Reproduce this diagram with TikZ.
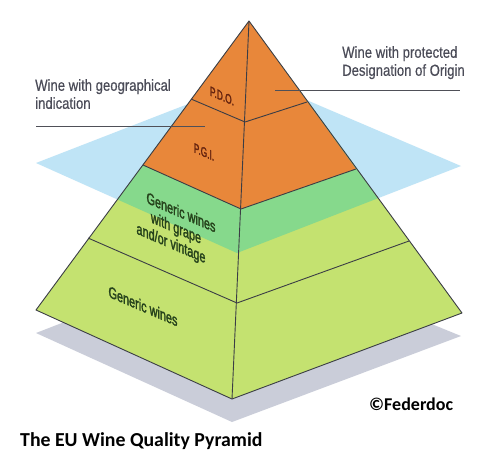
\documentclass[tikz,border=0pt]{standalone}
\usepackage{fontspec}
\setmainfont{Liberation Sans}
\newfontfamily\condA[FakeStretch=0.82, FakeBold=0.5]{Liberation Sans}
\newfontfamily\condB[FakeStretch=0.68, FakeBold=1.8]{Liberation Sans}
\newfontfamily\condC[FakeStretch=0.62, FakeBold=1.8]{Liberation Sans}
\newfontfamily\calf{Carlito}
\definecolor{orangec}{HTML}{E8873A}
\definecolor{limec}{HTML}{C4E270}
\definecolor{bandc}{HTML}{86D98C}
\definecolor{planec}{HTML}{BFE4F6}
\definecolor{shadowc}{HTML}{CACDD9}
\definecolor{edgec}{HTML}{3B3D45}
\definecolor{labelc}{HTML}{4B4C58}
\definecolor{redtxt}{HTML}{66240F}
\definecolor{greentxt}{HTML}{25421B}
\tikzset{
  edge/.style={draw=edgec, line width=0.9pt, line join=round},
  leader/.style={draw=edgec!90, line width=0.9pt},
  sidelabel/.style={text=labelc, font=\condA\fontsize{16}{18}\selectfont, align=left, inner sep=0pt},
  facelabel/.style={font=\condB\fontsize{16}{17.5}\selectfont, align=center, inner sep=0pt, yslant=-0.43},
  toplabel/.style={font=\condC\fontsize{13.5}{15}\selectfont, text=redtxt, inner sep=0pt, yslant=-0.43},
  credit/.style={font=\calf\bfseries\fontsize{18}{22}\selectfont, inner sep=0pt}
}
\begin{document}
\begin{tikzpicture}[x=1pt,y=-1pt]
\useasboundingbox (0,0) rectangle (500,474);
\fill[white] (0,0) rectangle (500,474);
% pyramid corners
\coordinate (A) at (249,21);
\coordinate (L) at (36,310);
\coordinate (R) at (462,313);
\coordinate (F) at (232,399);
% layer boundaries
\coordinate (pL1) at (191,99);  \coordinate (pC1) at (245,122); \coordinate (pR1) at (307,102);
\coordinate (pL2) at (143,165); \coordinate (pC2) at (241,209); \coordinate (pR2) at (356,169);
\coordinate (pL3) at (88,238);  \coordinate (pC3) at (237,303); \coordinate (pR3) at (409,241);
% plane
\coordinate (PL) at (36,163); \coordinate (PT) at (255,78);
\coordinate (PR) at (461,166); \coordinate (PB) at (237,253);
% shadow
\fill[shadowc] (36,333) -- (232,422) -- (461,336) -- (250,250) -- cycle;
% plane behind
\fill[planec] (PL) -- (PT) -- (PR) -- (PB) -- cycle;
% pyramid body
\fill[limec] (A) -- (L) -- (F) -- (R) -- cycle;
\begin{scope}
  \clip (A) -- (L) -- (F) -- (R) -- cycle;
  \fill[bandc] (PL) -- (PT) -- (PR) -- (PB) -- cycle;
\end{scope}
\fill[orangec] (A) -- (pL2) -- (pC2) -- (pR2) -- cycle;
% edges
\draw[edge] (A) -- (L) -- (F) -- (R) -- cycle;
\draw[edge] (A) -- (F);
\draw[edge] (pL1) -- (pC1) -- (pR1);
\draw[edge] (pL2) -- (pC2) -- (pR2);
\draw[edge] (pL3) -- (pC3) -- (pR3);
% face labels
\node[toplabel] (pdo) at (222,96) {P.D.O.};
\node[toplabel] (pgi) at (204,152) {P.G.I.};
\node[facelabel, text=greentxt] (grape) at (176,229) {\hspace*{10pt}Generic wines\\with grape\\and/or vintage\hspace*{10pt}};
\node[facelabel, text=greentxt] (generic) at (143,306) {Generic wines};
% side labels
\node[sidelabel, anchor=north west] (pdoText) at (342,46) {Wine with protected\\Designation of Origin};
\node[sidelabel, anchor=north west] (pgiText) at (35,79) {Wine with geographical\\indication};
\coordinate (pdoA) at (275,90); \coordinate (pdoB) at (460,90);
\coordinate (pgiA) at (36,126); \coordinate (pgiB) at (205,126);
\draw[leader] (pdoA) -- (pdoB);
\draw[leader] (pgiA) -- (pgiB);
% credits
\node[credit, anchor=base west] (fed) at (369,410) {©Federdoc};
\node[credit, font=\calf\bfseries\fontsize{19.8}{24}\selectfont, anchor=base west] (title) at (20,446) {The EU Wine Quality Pyramid};
\end{tikzpicture}
\end{document}
